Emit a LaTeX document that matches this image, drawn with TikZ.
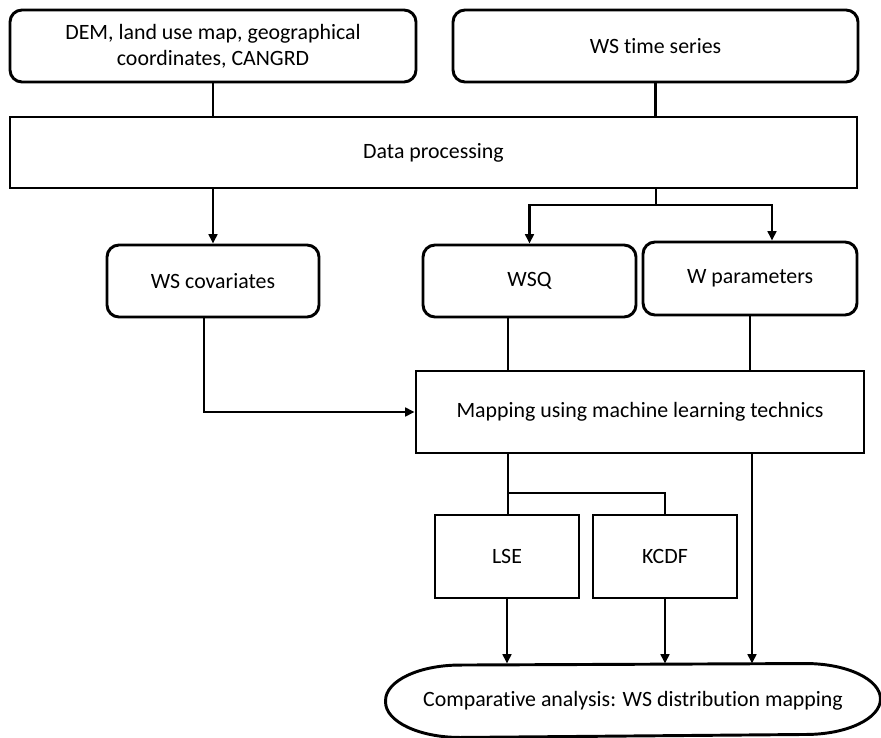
\documentclass[tikz,border=0pt]{standalone}
\usepackage{fontspec}
\setmainfont{Carlito}[Ligatures=NoCommon]
\usetikzlibrary{arrows.meta,calc}
\begin{document}
\begin{tikzpicture}[x=0.75pt,y=-0.75pt,
  line width=2.2pt,
  every node/.style={font=\fontsize{16.4}{19.5}\selectfont, inner sep=0pt, align=center},
  rbox/.style={draw, rounded corners=9pt},
  sbox/.style={draw},
  arr/.style={-{Triangle[length=7pt,width=6.5pt]}}]
\useasboundingbox (0,0) rectangle (881,738);
% nodes
\node[rbox, minimum width=406*0.75pt, minimum height=72*0.75pt] (src1) at (213,46)
  {DEM, land use map, geographical\\coordinates, CANGRD};
\node[rbox, minimum width=405*0.75pt, minimum height=72*0.75pt] (src2) at (655.5,46) {WS time series};
\node[sbox, minimum width=847*0.75pt, minimum height=71*0.75pt] (proc) at (433.5,152.5) {Data processing};
\node[rbox, minimum width=212*0.75pt, minimum height=72*0.75pt] (cov) at (213,281) {WS covariates};
\node[rbox, minimum width=213*0.75pt, minimum height=72*0.75pt] (wsq) at (529.5,281) {WSQ};
\node[rbox, minimum width=214*0.75pt, minimum height=73*0.75pt] (wpar) at (750,278.5) {W parameters};
\node[sbox, minimum width=448*0.75pt, minimum height=82*0.75pt] (map) at (640,412) {Mapping using machine learning technics};
\node[sbox, minimum width=144*0.75pt, minimum height=83*0.75pt] (lse) at (507,556.5) {LSE};
\node[sbox, minimum width=144*0.75pt, minimum height=83*0.75pt] (kcdf) at (665,556.5) {KCDF};
\node[minimum width=492*0.75pt, minimum height=71*0.75pt] (comp) at (633,700.5) {Comparative analysis: WS distribution mapping};
\draw (comp.west)
  arc[start angle=180, end angle=90, x radius=56pt, y radius=26.6pt]
  -- ([xshift=-56pt]comp.north east)
  arc[start angle=90, end angle=-90, x radius=56pt, y radius=26.6pt]
  -- ([xshift=56pt]comp.south west)
  arc[start angle=270, end angle=180, x radius=56pt, y radius=26.6pt] -- cycle;
% helper coordinates
\coordinate (j1) at (656,205);
\coordinate (j2) at (508,493);
\coordinate (x204) at (204,0);
\coordinate (x508) at (508,0);
\coordinate (x752) at (752,0);
\coordinate (x772) at (772,0);
% connectors
\draw (src1.south) -- (src1.south |- proc.north);
\draw (src2.south) -- (src2.south |- proc.north);
\draw[arr] (cov.north |- proc.south) -- (cov.north);
\draw (proc.south -| j1) -- (j1);
\draw[arr] (j1) -| (wsq.north);
\draw[arr] (j1) -| (wpar.north -| x772);
\draw (wsq.south -| x508) -- (map.north -| x508);
\draw (wpar.south) -- (wpar.south |- map.north);
\draw[arr] (cov.south -| x204) |- (map.west);
\draw (map.south -| j2) -- (lse.north -| j2);
\draw (j2) -| (kcdf.north);
\draw[arr] (lse.south) -- (lse.south |- comp.north);
\draw[arr] (kcdf.south) -- (kcdf.south |- comp.north);
\draw[arr] (map.south -| x752) -- (comp.north -| x752);
\end{tikzpicture}
\end{document}
